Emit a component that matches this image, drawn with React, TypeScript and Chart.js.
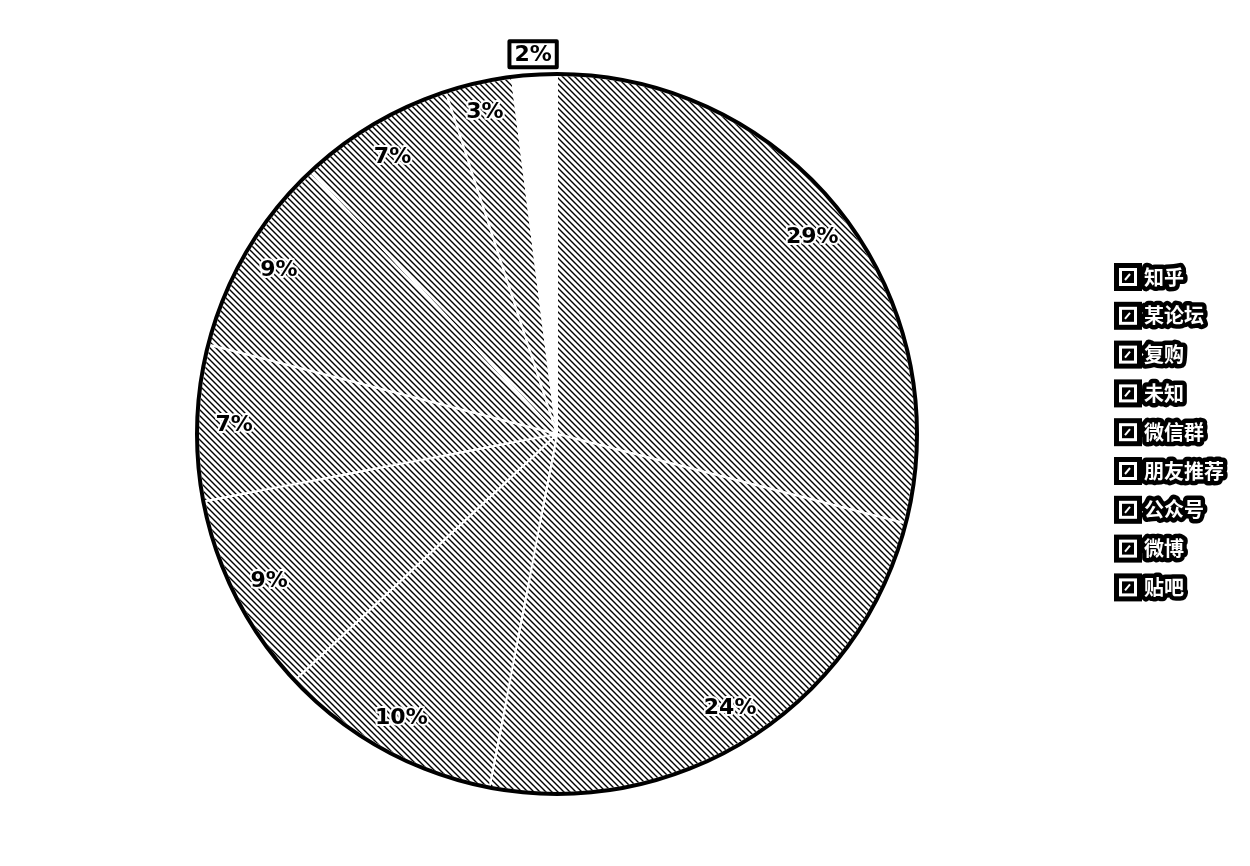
import React, { useEffect, useRef } from "react";
import { Chart, registerables } from "chart.js";

Chart.register(...registerables);

const categories = ["知乎", "某论坛", "复购", "未知", "微信群", "朋友推荐", "公众号", "微博", "贴吧"];
const shares = [29, 24, 10, 9, 7, 9, 7, 3, 2];
const labelTexts = ["29%", "24%", "10%", "9%", "7%", "9%", "7%", "3%", "2%"];

function makeHatch(): CanvasPattern | string {
  const s = 6;
  const c = document.createElement("canvas");
  c.width = s;
  c.height = s;
  const g = c.getContext("2d");
  if (!g) return "#999";
  g.fillStyle = "#ffffff";
  g.fillRect(0, 0, s, s);
  g.strokeStyle = "#000000";
  g.lineWidth = 1.4;
  g.beginPath();
  g.moveTo(-1, -1);
  g.lineTo(s + 1, s + 1);
  g.moveTo(s - 2, -2);
  g.lineTo(s + 2, 2);
  g.moveTo(-2, s - 2);
  g.lineTo(2, s + 2);
  g.stroke();
  const p = g.createPattern(c, "repeat");
  return p || "#999";
}

const outlinePlugin = {
  id: "outline",
  afterDatasetsDraw(chart: any) {
    const meta = chart.getDatasetMeta(0);
    if (!meta.data.length) return;
    const a = meta.data[0];
    const ctx = chart.ctx;
    ctx.save();
    ctx.strokeStyle = "#000";
    ctx.lineWidth = 4;
    ctx.beginPath();
    ctx.arc(a.x, a.y, a.outerRadius + 1, 0, Math.PI * 2);
    ctx.stroke();
    ctx.restore();
  },
};

const pctLabelPlugin = {
  id: "pctLabels",
  afterDatasetsDraw(chart: any) {
    const meta = chart.getDatasetMeta(0);
    const ctx = chart.ctx;
    const data = chart.data.datasets[0].data as number[];
    ctx.save();
    ctx.font = "bold 22px 'DejaVu Sans', sans-serif";
    ctx.textAlign = "center";
    ctx.textBaseline = "middle";
    ctx.lineJoin = "round";
    meta.data.forEach((arc: any, i: number) => {
      const mid = (arc.startAngle + arc.endAngle) / 2;
      const small = data[i] <= 2;
      const k = small ? 1.06 : data[i] <= 3 ? 0.92 : 0.9;
      const r = arc.outerRadius * k;
      const x = arc.x + Math.cos(mid) * r;
      const y = arc.y + Math.sin(mid) * r;
      const t = labelTexts[i];
      if (small) {
        const w = ctx.measureText(t).width + 10;
        ctx.fillStyle = "#fff";
        ctx.fillRect(x - w / 2, y - 13, w, 26);
        ctx.strokeStyle = "#000";
        ctx.lineWidth = 4;
        ctx.strokeRect(x - w / 2, y - 13, w, 26);
      } else {
        ctx.strokeStyle = "#fff";
        ctx.lineWidth = 4;
        ctx.strokeText(t, x, y + 1);
      }
      ctx.fillStyle = "#000";
      ctx.fillText(t, x, y + 1);
    });
    ctx.restore();
  },
};

const legendPlugin = {
  id: "sideLegend",
  afterDraw(chart: any) {
    const ctx = chart.ctx;
    const labels = chart.data.labels as string[];
    const x0 = 1118;
    const y0 = 277;
    const step = 38.8;
    ctx.save();
    ctx.font = "bold 20px 'Noto Sans CJK SC', sans-serif";
    ctx.textBaseline = "middle";
    ctx.textAlign = "left";
    ctx.lineJoin = "round";
    labels.forEach((lab, i) => {
      const y = y0 + i * step;
      ctx.fillStyle = "#000";
      ctx.fillRect(x0 - 4, y - 14, 28, 28);
      ctx.fillStyle = "#fff";
      ctx.fillRect(x0 + 1, y - 9, 18, 18);
      ctx.fillStyle = "#000";
      ctx.fillRect(x0 + 4, y - 6, 12, 12);
      ctx.strokeStyle = "#fff";
      ctx.lineWidth = 2;
      ctx.beginPath();
      ctx.moveTo(x0 + 7, y + 3);
      ctx.lineTo(x0 + 12, y - 3);
      ctx.stroke();
      const tx = x0 + 26;
      ctx.strokeStyle = "#000";
      ctx.lineWidth = 9;
      ctx.strokeText(lab, tx, y);
      ctx.fillStyle = "#fff";
      ctx.fillText(lab, tx, y);
    });
    ctx.restore();
  },
};

export default function App() {
  const ref = useRef<HTMLCanvasElement | null>(null);
  useEffect(() => {
    if (!ref.current) return;
    const hatch = makeHatch();
    const bg = shares.map((v, i) => (i === shares.length - 1 ? "#ffffff" : hatch));
    const chart = new Chart(ref.current, {
      type: "pie",
      data: {
        labels: categories,
        datasets: [
          {
            data: shares,
            backgroundColor: bg as any,
            borderColor: "#ffffff",
            borderWidth: 2,
          },
        ],
      },
      options: {
        animation: false,
        responsive: true,
        maintainAspectRatio: false,
        layout: { padding: { left: 197, right: 333, top: 74, bottom: 72 } },
        plugins: {
          legend: { display: false },
          tooltip: { enabled: false },
          title: { display: false },
        },
      },
      plugins: [outlinePlugin, pctLabelPlugin, legendPlugin],
    });
    return () => chart.destroy();
  }, []);
  return (
    <div style={{ position: "fixed", left: 0, top: 0, width: 1250, height: 866, background: "#fff" }}>
      <canvas ref={ref} />
    </div>
  );
}
